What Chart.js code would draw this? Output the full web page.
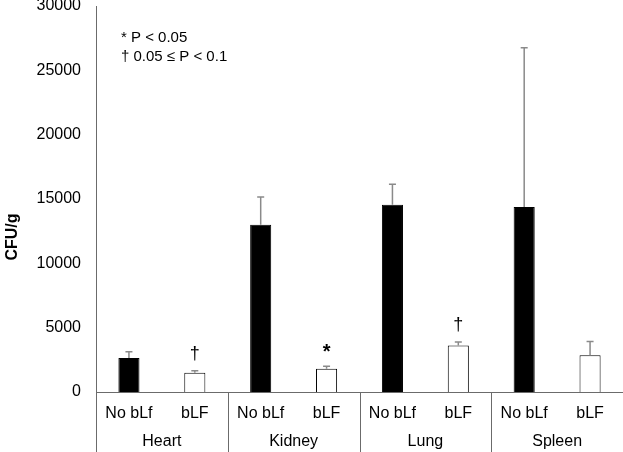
<!DOCTYPE html>
<html>
<head>
<meta charset="utf-8">
<script src="https://cdn.jsdelivr.net/npm/chart.js@4"></script>
<style>
  html, body { margin: 0; padding: 0; background: #fff; }
  #wrap { width: 623px; height: 452px; }
</style>
</head>
<body>
<div id="wrap"><canvas id="cfu-chart"></canvas></div>
<script>
/* ===== CFU/g by organ, with and without bLf ===== */

const organs     = ['Heart', 'Kidney', 'Lung', 'Spleen'];
const treatments = ['No bLf', 'bLF'];

// one value per bar, in order organ x treatment
const cfuMeans = [2650, 1490, 13000, 1800, 14550, 3610, 14380, 2860];
const cfuErr   = [470, 160, 2160, 210, 1590, 280, 12380, 1060];
const sigMarks = ['', '\u2020', '', '*', '', '\u2020', '', ''];

const yTicks = [0, 5000, 10000, 15000, 20000, 25000, 30000];
const noteLines = ['* P < 0.05', '\u2020 0.05 \u2264 P < 0.1'];

const FONT = '"Liberation Sans", Arial, sans-serif';
const AXIS_COLOR = '#6b6b6b';

const barLabels = [];
organs.forEach(() => treatments.forEach(t => barLabels.push(t)));

/** Upper error bars, significance marks, group labels, notes */
const extrasPlugin = {
  id: 'extras',
  afterDatasetsDraw(chart) {
    const ctx = chart.ctx;
    const meta = chart.getDatasetMeta(0);
    const y = chart.scales.y;
    ctx.save();

    // error bars
    ctx.strokeStyle = '#8a8a8a';
    ctx.lineWidth = 1.5;
    meta.data.forEach((bar, i) => {
      const yTop = y.getPixelForValue(cfuMeans[i] + cfuErr[i]);
      ctx.beginPath();
      ctx.moveTo(bar.x, bar.y);
      ctx.lineTo(bar.x, yTop);
      ctx.moveTo(bar.x - 3.5, yTop);
      ctx.lineTo(bar.x + 3.5, yTop);
      ctx.stroke();
    });

    // significance marks
    ctx.fillStyle = '#000';
    ctx.textAlign = 'center';
    ctx.textBaseline = 'bottom';
    meta.data.forEach((bar, i) => {
      if (!sigMarks[i]) return;
      const yTop = y.getPixelForValue(cfuMeans[i] + cfuErr[i]);
      const star = sigMarks[i] === '*';
      ctx.font = (star ? 'bold 20px ' : '18px ') + FONT;
      ctx.fillText(sigMarks[i], bar.x, yTop - (star ? 4 : 8));
    });
    ctx.restore();
  },
  afterDraw(chart) {
    const ctx = chart.ctx;
    const area = chart.chartArea;
    const x = chart.scales.x;
    const H = chart.height;
    ctx.save();

    // axis extensions and group separators
    ctx.strokeStyle = AXIS_COLOR;
    ctx.lineWidth = 1;
    ctx.beginPath();
    ctx.moveTo(area.left + 0.5, area.bottom);
    ctx.lineTo(area.left + 0.5, H);
    for (let g = 1; g < organs.length; g++) {
      const px = Math.round((x.getPixelForValue(2 * g - 1) + x.getPixelForValue(2 * g)) / 2) + 0.5;
      ctx.moveTo(px, area.bottom);
      ctx.lineTo(px, H);
    }
    ctx.stroke();

    // group names
    ctx.fillStyle = '#000';
    ctx.font = '16px ' + FONT;
    ctx.textAlign = 'center';
    ctx.textBaseline = 'middle';
    organs.forEach((name, g) => {
      const px = (x.getPixelForValue(2 * g) + x.getPixelForValue(2 * g + 1)) / 2;
      ctx.fillText(name, px, 442);
    });

    // notes
    ctx.textAlign = 'left';
    ctx.font = '15px ' + FONT;
    noteLines.forEach((line, i) => ctx.fillText(line, area.left + 25, 38 + i * 19));

    // y axis title
    ctx.translate(13, 237);
    ctx.rotate(-Math.PI / 2);
    ctx.textAlign = 'center';
    ctx.font = 'bold 16px ' + FONT;
    ctx.fillText('CFU/g', 0, 0);
    ctx.restore();
  }
};

new Chart(document.getElementById('cfu-chart').getContext('2d'), {
  type: 'bar',
  data: {
    labels: barLabels,
    datasets: [{
      data: cfuMeans,
      backgroundColor: cfuMeans.map((v, i) => i % 2 === 0 ? '#000' : '#fff'),
      borderColor: '#000',
      borderWidth: 1,
      barPercentage: 0.32,
      categoryPercentage: 1
    }]
  },
  options: {
    responsive: true,
    maintainAspectRatio: false,
    animation: false,
    devicePixelRatio: 1,
    layout: { padding: 0 },
    plugins: { legend: { display: false }, tooltip: { enabled: false } },
    scales: {
      x: {
        offset: true,
        grid: { display: false, drawTicks: false },
        border: { display: true, color: AXIS_COLOR, width: 1 },
        ticks: { color: '#000', font: { family: FONT, size: 16 }, padding: 12, maxRotation: 0, autoSkip: false },
        afterFit(scale) { scale.height = 60; }
      },
      y: {
        min: 0,
        max: 30000,
        grid: { display: false, drawTicks: false },
        border: { display: true, color: AXIS_COLOR, width: 1 },
        afterBuildTicks(scale) { scale.ticks = yTicks.map(v => ({ value: v })); },
        ticks: {
          color: '#000',
          font: { family: FONT, size: 16 },
          padding: 15,
          callback: value => String(value)
        },
        afterFit(scale) { scale.width = 96; scale.paddingTop = 6; }
      }
    }
  },
  plugins: [extrasPlugin]
});
</script>
</body>
</html>
